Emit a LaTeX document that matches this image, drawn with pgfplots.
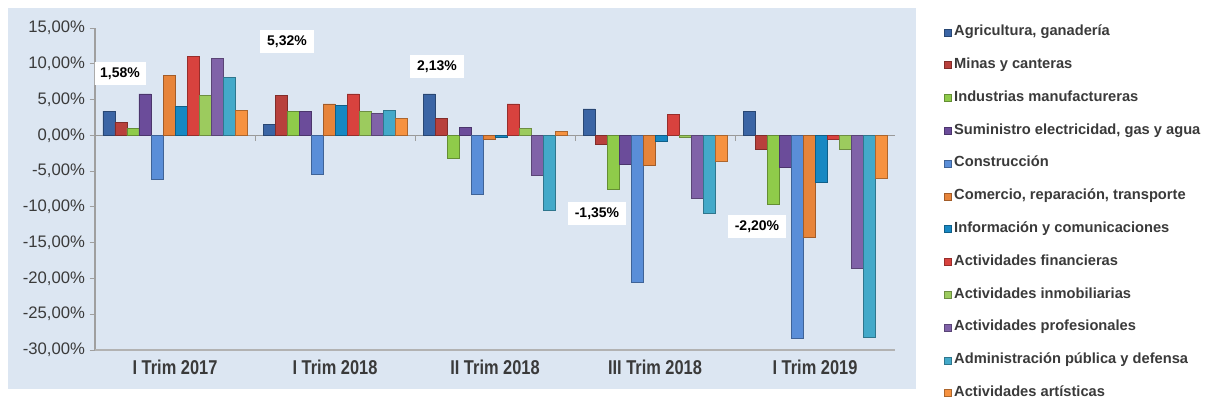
\documentclass[border=0pt]{standalone}
\usepackage{pgfplots}
\pgfplotsset{compat=1.18}
\usepackage{pgfplotstable}
\usepackage{fontspec}
\setmainfont{Liberation Sans}
\newfontfamily\narrowfont[FakeStretch=0.82]{Liberation Sans}
\definecolor{panel}{HTML}{DCE6F2}
\definecolor{labelgray}{HTML}{3A3A3A}
\definecolor{c1}{HTML}{3B65A5}
\definecolor{c2}{HTML}{B8403C}
\definecolor{c3}{HTML}{8FCB4A}
\definecolor{c4}{HTML}{6B4C9A}
\definecolor{c5}{HTML}{5A8ED8}
\definecolor{c6}{HTML}{E7843A}
\definecolor{c7}{HTML}{1788C3}
\definecolor{c8}{HTML}{D8423E}
\definecolor{c9}{HTML}{9CCB5E}
\definecolor{c10}{HTML}{8062A8}
\definecolor{c11}{HTML}{43A9C9}
\definecolor{c12}{HTML}{F69240}
\pgfplotstableread{
x  a    b    c    d    e     f     g    h    i    j     k     l
0  3.4  1.8  1.0  5.8  -6.2  8.4   4.0  11.0 5.6  10.8  8.1   3.5
1  1.5  5.6  3.3  3.4  -5.5  4.4   4.2  5.8  3.3  3.1   3.5   2.4
2  5.8  2.4  -3.2 1.1  -8.3  -0.6  -0.2 4.4  1.0  -5.6  -10.5 0.6
3  3.7  -1.2 -7.5 -4.1 -20.5 -4.2  -0.8 2.9  -0.3 -8.8  -10.9 -3.6
4  3.4  -2.0 -9.6 -4.5 -28.4 -14.2 -6.5 -0.6 -2.0 -18.6 -28.2 -6.0
}\data
\begin{document}
\begin{tikzpicture}
\useasboundingbox (-71.25pt,-41.25pt) rectangle (837.75pt,262.5pt);
\fill[white] (-71.25pt,-41.25pt) rectangle (837.75pt,262.5pt);
\fill[panel] (-65.25pt,-29.25pt) rectangle (615.75pt,256.5pt);
\begin{axis}[
  at={(0pt,0pt)}, anchor=south west,
  scale only axis, width=600pt, height=241.5pt,
  xmin=-0.5, xmax=4.5, ymin=-30, ymax=15,
  ybar=0pt, bar width=9pt,
  axis lines*=left,
  axis line style={gray!75, line width=0.8pt},
  ytick={-30,-25,...,15},
  yticklabels={{-30,00\%},{-25,00\%},{-20,00\%},{-15,00\%},{-10,00\%},{-5,00\%},{0,00\%},{5,00\%},{10,00\%},{15,00\%}},
  y tick label style={font=\fontsize{12.5}{13}\selectfont, text=labelgray},
  xtick={0,1,2,3,4},
  xticklabels={I Trim 2017, I Trim 2018, II Trim 2018, III Trim 2018, I Trim 2019},
  x tick label style={font=\narrowfont\bfseries\fontsize{15}{16}\selectfont, text=labelgray},
  x tick style={draw=none},
  y tick style={gray!75, line width=0.6pt},
  tick align=outside, major tick length=4pt,
  extra y ticks={0}, extra y tick labels={},
  extra y tick style={grid=major, major grid style={gray!80, line width=0.7pt}, major tick length=0pt},
  legend style={at={(1.061,1.006)}, anchor=north west, draw=none, fill=none, inner sep=0pt,
    font=\bfseries\fontsize{11}{12}\selectfont, text=labelgray,
    nodes={inner sep=0pt, text height=7pt, text depth=2pt},
    row sep=15.6pt, /tikz/every odd column/.append style={column sep=2pt}},
  legend cell align=left,
  legend image code/.code={\fill[#1] (0pt,-2.6pt) rectangle (5.2pt,2.6pt);},
]
\addplot[fill=c1, draw=c1!70!black] table[x=x,y=a] {\data};
\addplot[fill=c2, draw=c2!70!black] table[x=x,y=b] {\data};
\addplot[fill=c3, draw=c3!70!black] table[x=x,y=c] {\data};
\addplot[fill=c4, draw=c4!70!black] table[x=x,y=d] {\data};
\addplot[fill=c5, draw=c5!70!black] table[x=x,y=e] {\data};
\addplot[fill=c6, draw=c6!70!black] table[x=x,y=f] {\data};
\addplot[fill=c7, draw=c7!70!black] table[x=x,y=g] {\data};
\addplot[fill=c8, draw=c8!70!black] table[x=x,y=h] {\data};
\addplot[fill=c9, draw=c9!70!black] table[x=x,y=i] {\data};
\addplot[fill=c10, draw=c10!70!black] table[x=x,y=j] {\data};
\addplot[fill=c11, draw=c11!70!black] table[x=x,y=k] {\data};
\addplot[fill=c12, draw=c12!70!black] table[x=x,y=l] {\data};
\legend{{Agricultura, ganadería}, Minas y canteras, Industrias manufactureras, {Suministro electricidad, gas y agua}, Construcción, {Comercio, reparación, transporte}, Información y comunicaciones, Actividades financieras, Actividades inmobiliarias, Actividades profesionales, Administración pública y defensa, Actividades artísticas}
\draw[gray!75, line width=0.6pt] (axis cs:0.5,0) -- ++(0pt,-4pt);
\draw[gray!75, line width=0.6pt] (axis cs:1.5,0) -- ++(0pt,-4pt);
\draw[gray!75, line width=0.6pt] (axis cs:2.5,0) -- ++(0pt,-4pt);
\draw[gray!75, line width=0.6pt] (axis cs:3.5,0) -- ++(0pt,-4pt);
\draw[gray!60, line width=1.4pt] (axis cs:-0.5,-30) -- (axis cs:4.5,-30);
\tikzset{lab/.style={fill=white, font=\bfseries\fontsize{10.5}{12}\selectfont, inner xsep=5pt, inner ysep=4pt}}
\node[lab] at (axis cs:-0.344,8.66) {1,58\%};
\node[lab] at (axis cs:0.70,13.1) {5,32\%};
\node[lab] at (axis cs:1.6375,9.6) {2,13\%};
\node[lab] at (axis cs:2.6375,-10.9) {-1,35\%};
\node[lab] at (axis cs:3.6375,-12.7) {-2,20\%};
\end{axis}
\end{tikzpicture}
\end{document}
